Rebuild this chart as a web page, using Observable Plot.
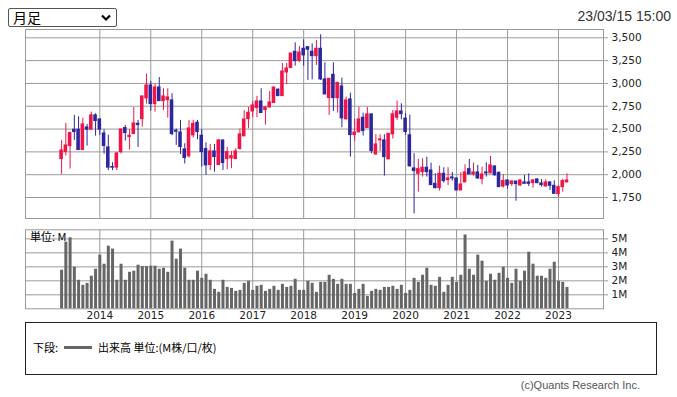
<!DOCTYPE html>
<html><head><meta charset="utf-8">
<script src="https://cdn.jsdelivr.net/npm/d3@7"></script>
<script src="https://cdn.jsdelivr.net/npm/@observablehq/plot@0.6"></script>
<style>
body{margin:0;background:#fff;}
#wrap{position:relative;width:677px;height:397px;overflow:hidden;background:#fff;}
.abs{position:absolute;}
#sel{left:8px;top:8px;width:107px;height:17px;border:1px solid #555;border-radius:2px;background:#fff;}
#sel span{position:absolute;left:4px;top:-1px;font:14px "Noto Sans CJK JP",sans-serif;line-height:19px;color:#000;}
#sel svg{position:absolute;right:5px;top:5px;}
#stamp{right:6px;top:8px;font:14px "Liberation Sans",Arial,sans-serif;color:#333;}
#unit{left:30px;top:229px;font:11px "Noto Sans CJK JP",sans-serif;color:#000;line-height:14px;}
#legend{left:25px;top:322px;width:630px;height:51px;border:1px solid #222;}
#legend .t{position:absolute;top:16px;font:11px "Noto Sans CJK JP",sans-serif;color:#000;line-height:16px;white-space:nowrap;}
#legend .ln{position:absolute;left:38px;top:23px;width:28px;height:3px;background:#666;}
#copy{right:37px;top:379px;font:11px "Liberation Sans Narrow","Liberation Sans",sans-serif;color:#555;}
</style></head>
<body>
<div id="wrap">
  <div id="sel" class="abs"><span>月足</span><svg width="10" height="8"><polyline points="1,1.5 5,5.5 9,1.5" fill="none" stroke="#000" stroke-width="2.2"/></svg></div>
  <div id="stamp" class="abs">23/03/15 15:00</div>
  <div id="main" class="abs" style="left:0;top:20px;"></div>
  <div id="vol" class="abs" style="left:0;top:224px;"></div>
  <div id="unit" class="abs">単位: M</div>
  <div id="legend" class="abs">
    <div class="t" style="left:7px;">下段:</div>
    <div class="ln"></div>
    <div class="t" style="left:72px;">出来高 単位:(M株/口/枚)</div>
  </div>
  <div id="copy" class="abs">(c)Quants Research Inc.</div>
</div>
<script>
// ---- data (monthly candles, 2013-04 .. 2023-03) ----
const months = [
  "2013-04","2013-05","2013-06","2013-07","2013-08","2013-09","2013-10","2013-11","2013-12",
  "2014-01","2014-02","2014-03","2014-04","2014-05","2014-06","2014-07","2014-08","2014-09","2014-10","2014-11","2014-12",
  "2015-01","2015-02","2015-03","2015-04","2015-05","2015-06","2015-07","2015-08","2015-09","2015-10","2015-11","2015-12",
  "2016-01","2016-02","2016-03","2016-04","2016-05","2016-06","2016-07","2016-08","2016-09","2016-10","2016-11","2016-12",
  "2017-01","2017-02","2017-03","2017-04","2017-05","2017-06","2017-07","2017-08","2017-09","2017-10","2017-11","2017-12",
  "2018-01","2018-02","2018-03","2018-04","2018-05","2018-06","2018-07","2018-08","2018-09","2018-10","2018-11","2018-12",
  "2019-01","2019-02","2019-03","2019-04","2019-05","2019-06","2019-07","2019-08","2019-09","2019-10","2019-11","2019-12",
  "2020-01","2020-02","2020-03","2020-04","2020-05","2020-06","2020-07","2020-08","2020-09","2020-10","2020-11","2020-12",
  "2021-01","2021-02","2021-03","2021-04","2021-05","2021-06","2021-07","2021-08","2021-09","2021-10","2021-11","2021-12",
  "2022-01","2022-02","2022-03","2022-04","2022-05","2022-06","2022-07","2022-08","2022-09","2022-10","2022-11","2022-12",
  "2023-01","2023-02","2023-03"
];
const open = [
  2171,2248,2314,2493,2493,2270,2518,2493,2650,
  2606,2452,2299,2084,2077,2248,2511,2412,2445,2558,2609,2836,
  2978,2774,2956,2806,2817,2814,2482,2463,2277,2201,2431,2569,
  2427,2281,2106,2255,2106,2376,2171,2179,2171,2281,2420,2609,
  2693,2730,2803,2708,2737,2785,2931,2861,3120,3168,3347,3245,
  3380,3398,3347,3299,3380,3044,2839,3095,2839,2967,2606,2825,
  2434,2463,2624,2511,2661,2222,2376,2376,2168,2442,2624,2693,
  2615,2432,2069,2010,2028,2076,2047,1900,1853,2010,1941,1970,
  1959,1827,1915,2061,2003,2025,1952,2025,2014,2091,2021,1871,
  1937,1897,1926,1882,1915,1915,1908,1948,1904,1871,1915,1878,
  1787,1864,1915
];
const high = [
  2376,2562,2467,2650,2635,2620,2551,2686,2668,
  2606,2493,2431,2131,2244,2496,2540,2493,2737,2595,2858,3102,
  3022,2993,3065,2942,2942,2887,2500,2595,2339,2595,2595,2595,
  2493,2350,2332,2332,2387,2376,2299,2255,2285,2500,2701,2737,
  2803,2858,2942,2745,2912,2956,2942,3219,3219,3328,3445,3405,
  3478,3398,3434,3471,3533,3226,3051,3226,3007,3058,2850,2894,
  2606,2737,2675,2737,2661,2438,2438,2438,2449,2704,2806,2777,
  2670,2652,2230,2168,2175,2193,2127,2010,2094,2076,2076,2025,
  1959,2021,2109,2168,2127,2102,2083,2131,2201,2091,2028,2000,
  1944,1930,1926,1944,1992,2010,1948,1955,1948,1944,1922,1933,
  1878,1952,2010
];
const low = [
  2004,2204,2062,2376,2270,2270,2314,2493,2423,
  2431,2226,2044,2044,2044,2226,2369,2270,2445,2299,2522,2774,
  2697,2686,2806,2704,2620,2427,2321,2222,2117,2182,2401,2383,
  2084,1993,2044,2029,2106,2047,2055,2066,2171,2270,2420,2504,
  2624,2624,2675,2544,2730,2785,2861,2861,2989,3168,3190,3230,
  3190,3033,3040,3197,3033,2879,2650,2693,2675,2515,2602,2193,
  2365,2463,2423,2511,2230,2212,2255,1985,2168,2391,2595,2602,
  2432,2084,1570,1809,1974,1974,1886,1845,1820,1908,1882,1930,
  1827,1827,1915,2003,1985,1948,1889,1974,2014,1981,1864,1853,
  1842,1871,1710,1871,1900,1871,1853,1900,1864,1864,1827,1790,
  1750,1809,1915
];
const close = [
  2266,2321,2456,2467,2270,2551,2493,2650,2588,
  2493,2314,2077,2077,2233,2496,2456,2427,2562,2544,2858,2978,
  2774,2956,2806,2858,2847,2445,2471,2303,2182,2507,2558,2467,
  2248,2102,2255,2193,2376,2128,2248,2204,2255,2442,2606,2679,
  2759,2803,2675,2737,2792,2956,2861,3131,3164,3328,3245,3339,
  3307,3369,3299,3380,3044,2879,3051,2839,3007,2617,2814,2434,
  2463,2606,2478,2661,2259,2332,2387,2193,2449,2661,2693,2664,
  2468,2091,2040,2061,2076,2028,1886,1853,2010,1930,1959,1959,
  1827,1893,2025,2003,2025,1959,2003,2014,2102,1995,1864,1930,
  1882,1926,1897,1937,1900,1900,1937,1908,1886,1915,1878,1790,
  1864,1930,1937
];
const volume = [ // millions
  2.76,4.77,5.08,2.97,2.04,1.68,1.82,2.33,2.83,
  3.84,3.19,4.48,4.27,2.04,3.19,2.04,2.61,2.69,3.12,3.02,3.02,
  3.05,3.05,2.83,2.90,2.61,4.84,3.55,4.27,2.90,2.04,2.04,2.69,
  2.18,2.47,2.04,1.39,1.18,2.04,1.53,1.46,1.25,1.32,1.82,1.97,
  1.32,1.61,1.68,1.25,1.39,1.61,1.32,1.75,1.53,1.61,2.11,1.32,
  1.32,1.97,1.82,1.18,1.89,1.89,2.40,2.11,1.75,2.11,1.75,1.75,
  1.10,1.39,1.75,0.89,1.25,1.39,1.32,1.53,1.53,1.61,1.39,1.68,
  1.10,1.32,2.18,1.89,2.40,2.90,1.68,1.61,2.25,1.18,1.68,2.25,
  1.89,2.40,5.28,2.83,2.40,3.84,3.41,1.97,2.47,2.04,2.54,2.97,
  2.18,1.82,2.83,1.97,2.69,4.05,3.19,2.33,2.33,2.18,2.83,3.33,
  1.97,1.89,1.53
];
const priceTicks = [1750,2000,2250,2500,2750,3000,3250,3500];
const volTicks = [1,2,3,4,5];
const yearLabels = [2014,2015,2016,2017,2018,2019,2020,2021,2022,2023];

// ---- build table ----
const monthIndex = s => (+s.slice(0,4) - 2014) * 12 + (+s.slice(5,7) - 1);
const rows = months.map((mo, i) => ({m: monthIndex(mo), o: open[i], h: high[i], l: low[i], c: close[i], v: volume[i]}));
const yearTicks = yearLabels.map(y => (y - 2014) * 12);
const UP = "#f01549", DOWN = "#2c279c";
const col = d => d.c > d.o ? UP : DOWN;
const xDomain = [-17.5, 118.6];
const GRID = "#9a9a9a";

const main = Plot.plot({
  width: 677, height: 205,
  marginLeft: 25, marginRight: 74, marginTop: 9, marginBottom: 7,
  x: {domain: xDomain, axis: null},
  y: {domain: [1520, 3591], axis: null},
  color: {type: "identity"},
  style: {fontFamily: "DejaVu Sans, sans-serif", fontSize: "10.5px", color: "#222", background: "transparent"},
  marks: [
    Plot.gridY(priceTicks, {stroke: GRID, strokeOpacity: 1}),
    Plot.gridX(yearTicks, {stroke: GRID, strokeOpacity: 1}),
    Plot.frame({stroke: GRID}),
    Plot.ruleX(rows, {x: "m", y1: "l", y2: "h", stroke: col, strokeWidth: 1}),
    Plot.rect(rows, {x1: d => d.m - 0.42, x2: d => d.m + 0.42, y1: "o", y2: "c", fill: col, insetTop: -0.5, insetBottom: -0.5}),
    Plot.axisY(priceTicks, {anchor: "right", tickSize: 4, tickPadding: 4, stroke: GRID, fill: "#222", tickFormat: d3.format(","), label: null})
  ]
});
document.getElementById("main").appendChild(main);

const vol = Plot.plot({
  width: 677, height: 100,
  marginLeft: 25, marginRight: 74, marginTop: 5.3, marginBottom: 15.7,
  x: {domain: xDomain},
  y: {domain: [0, 5.65]},
  style: {fontFamily: "DejaVu Sans, sans-serif", fontSize: "10.5px", color: "#222", background: "transparent"},
  marks: [
    Plot.gridY(volTicks, {stroke: GRID, strokeOpacity: 1}),
    Plot.gridX(yearTicks, {stroke: GRID, strokeOpacity: 1}),
    Plot.frame({stroke: GRID}),
    Plot.ruleX(rows, {x: "m", y1: 0, y2: "v", stroke: "#666", strokeWidth: 3}),
    Plot.axisY(volTicks, {anchor: "right", tickSize: 4, tickPadding: 4, stroke: GRID, fill: "#222", tickFormat: d => d + "M", label: null}),
    Plot.axisX(yearTicks, {anchor: "bottom", tickSize: 0, tickPadding: 3, fill: "#222", tickFormat: m => String(2014 + m / 12), label: null})
  ]
});
document.getElementById("vol").appendChild(vol);
</script>
</body></html>
